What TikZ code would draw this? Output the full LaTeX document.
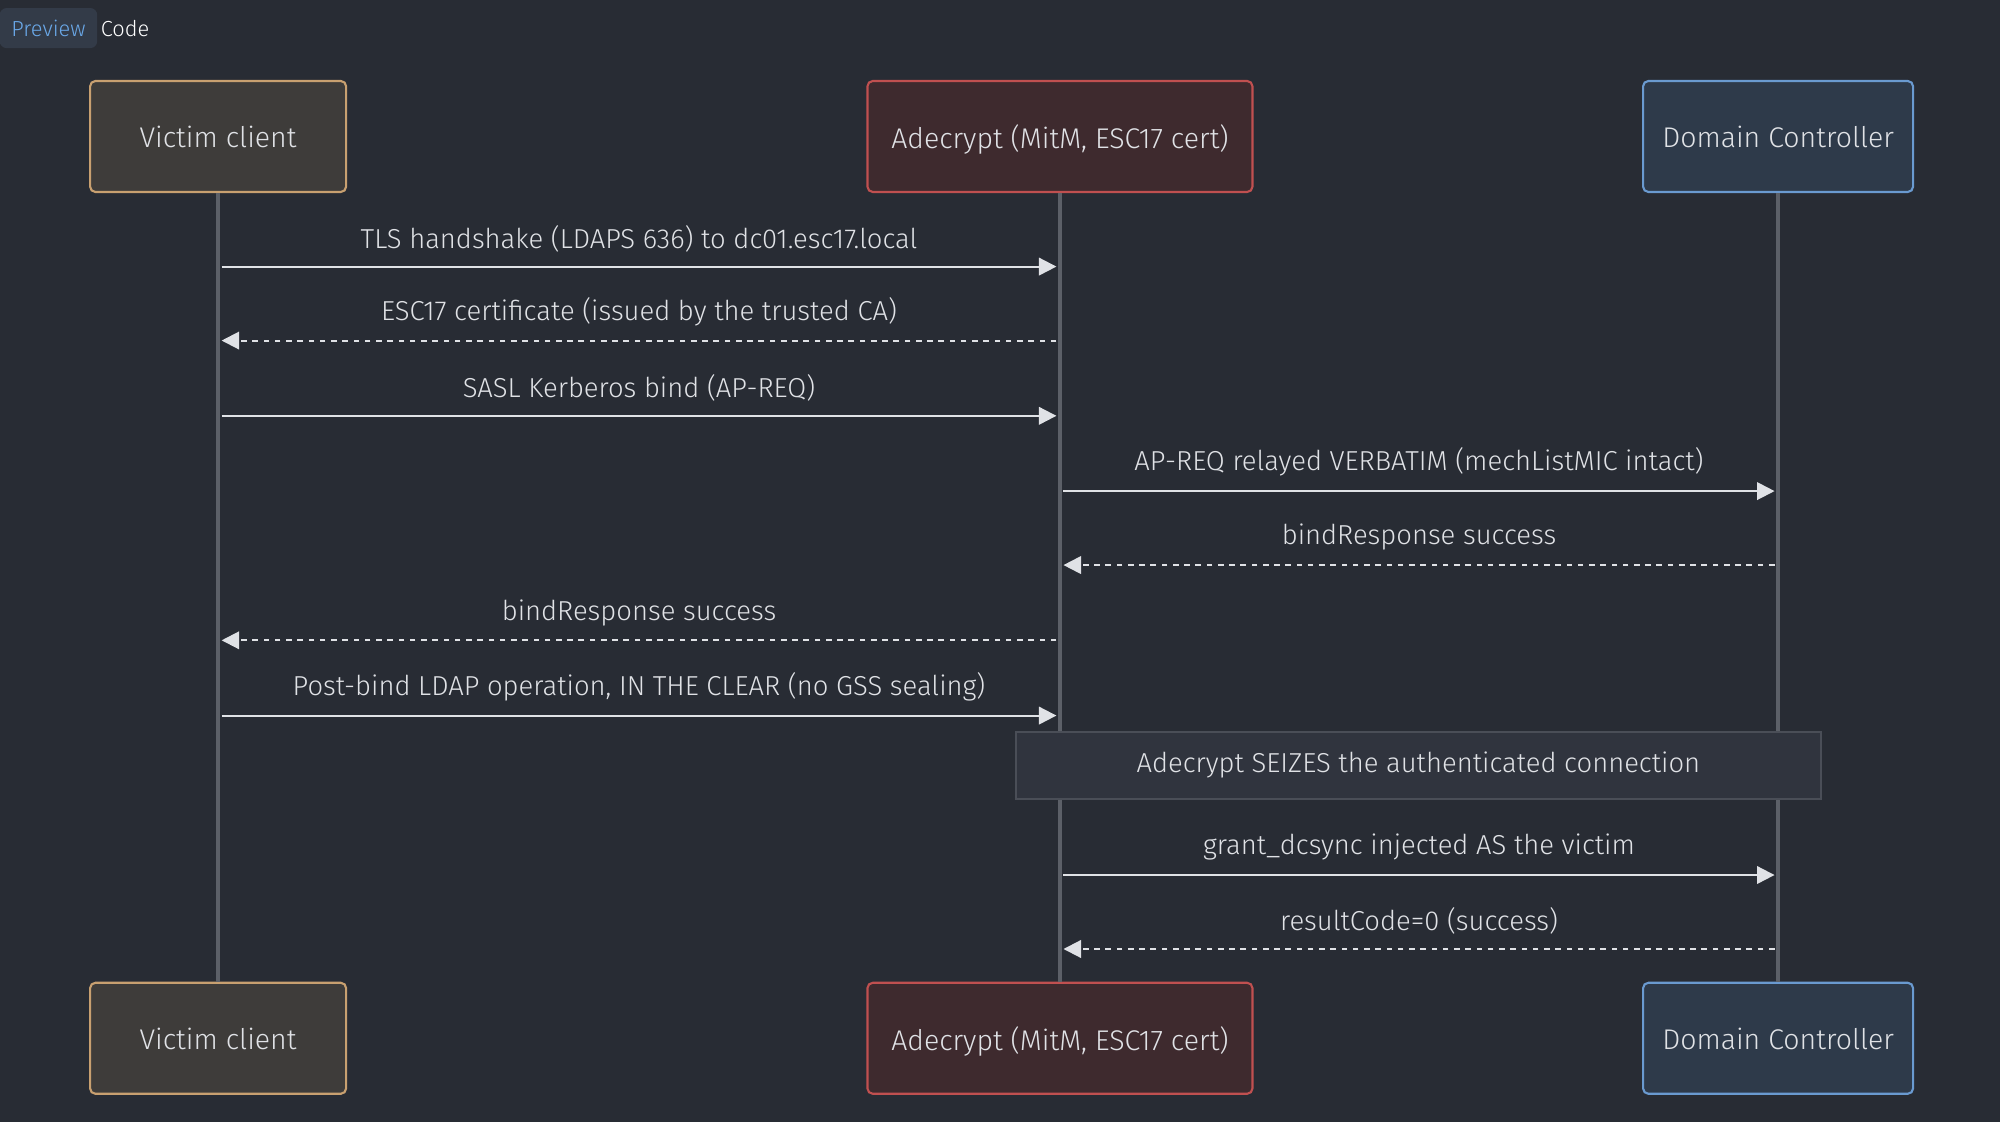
\documentclass[tikz,border=0pt]{standalone}
\usepackage{fontspec}
\setmainfont{Fira Sans Light}[BoldFont=Fira Sans]
\usetikzlibrary{arrows.meta}
\definecolor{bg}{HTML}{282C34}
\definecolor{txt}{HTML}{E0E2E6}
\definecolor{life}{HTML}{5C6068}
\definecolor{vicfill}{HTML}{3E3C3A}
\definecolor{vicline}{HTML}{C8A070}
\definecolor{mitmfill}{HTML}{3E2A2E}
\definecolor{mitmline}{HTML}{C05050}
\definecolor{dcfill}{HTML}{2E3A4A}
\definecolor{dcline}{HTML}{6A9AD0}
\definecolor{notefill}{HTML}{30343E}
\definecolor{tabfill}{HTML}{333B48}
\definecolor{tabblue}{HTML}{6AA8E8}
\tikzstyle{actor} = [rectangle, rounded corners=1.5pt, line width=0.6pt, minimum height=1.11cm, text=txt, text depth=0pt, font=\fontsize{8.1}{9}\selectfont]
\tikzstyle{msg} = [draw=txt, line width=0.6pt, -{Triangle[length=5pt,width=5pt]}]
\tikzstyle{reply} = [msg, dash pattern=on 1.6pt off 1.6pt]
\tikzstyle{lbl} = [text=txt, font=\fontsize{7.8}{9}\selectfont, above=0.5pt, midway]
\begin{document}
\begin{tikzpicture}[x=0.012755cm, y=-0.012755cm]
        \fill[bg] (0,0) rectangle (1568,880);
        \useasboundingbox (0,0) rectangle (1568,880);

        % Tabs
        \node[fill=tabfill, rounded corners=2pt, minimum width=0.86cm, minimum height=0.36cm, text=tabblue, font=\fontsize{6.2}{7}\selectfont] (prev) at (38,22) {Preview};
        \node[text=white, font=\fontsize{6.2}{7}\selectfont] (code) at (98,22) {Code};

        % Actors
        \node[actor, fill=vicfill, draw=vicline, minimum width=2.56cm] (vic) at (171,107) {Victim client};
        \node[actor, fill=mitmfill, draw=mitmline, minimum width=3.85cm] (mitm) at (831,107) {Adecrypt (MitM, ESC17 cert)};
        \node[actor, fill=dcfill, draw=dcline, minimum width=2.70cm] (dc) at (1394,107) {Domain Controller};
        \node[actor, fill=vicfill, draw=vicline, minimum width=2.56cm] (vicb) at (171,814) {Victim client};
        \node[actor, fill=mitmfill, draw=mitmline, minimum width=3.85cm] (mitmb) at (831,814) {Adecrypt (MitM, ESC17 cert)};
        \node[actor, fill=dcfill, draw=dcline, minimum width=2.70cm] (dcb) at (1394,814) {Domain Controller};

        % Lifelines
        \draw[life, line width=1pt] (vic) -- (vicb);
        \draw[life, line width=1pt] (mitm) -- (mitmb);
        \draw[life, line width=1pt] (dc) -- (dcb);

        % Messages
        \foreach \y/\a/\b/\s/\t in {
            209/vic/mitm/msg/{TLS handshake (LDAPS 636) to dc01.esc17.local},
            267/mitm/vic/reply/{ESC17 certificate (issued by the trusted CA)},
            326/vic/mitm/msg/{SASL Kerberos bind (AP-REQ)},
            385/mitm/dc/msg/{AP-REQ relayed VERBATIM (mechListMIC intact)},
            443/dc/mitm/reply/{bindResponse success},
            502/mitm/vic/reply/{bindResponse success},
            561/vic/mitm/msg/{Post-bind LDAP operation, IN THE CLEAR (no GSS sealing)},
            686/mitm/dc/msg/{grant\_dcsync injected AS the victim},
            744/dc/mitm/reply/{resultCode=0 (success)}}
            \draw[\s, shorten <=1pt, shorten >=1pt] (\a |- 0,\y) -- (\b |- 0,\y) node[lbl] {\t};

        % Note
        \node[fill=notefill, draw=life!60!notefill, line width=0.4pt, minimum width=8.05cm, minimum height=0.67cm, text=txt, font=\fontsize{7.8}{9}\selectfont] (note) at (1112,600) {Adecrypt SEIZES the authenticated connection};
    \end{tikzpicture}
\end{document}
